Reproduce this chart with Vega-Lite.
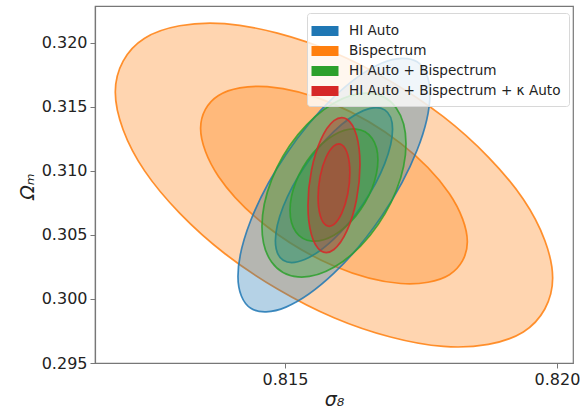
{
  "$schema": "https://vega.github.io/schema/vega-lite/v6.json",
  "width": 478,
  "height": 357,
  "autosize": "none",
  "padding": {"left": 95, "top": 6, "right": 7, "bottom": 46},
  "background": "white",
  "config": {
    "font": "DejaVu Sans",
    "view": {"stroke": "#777", "strokeWidth": 1.2},
    "axis": {"grid": false, "domainColor": "#777", "domainWidth": 1.2, "tickColor": "#777", "tickSize": 5, "labelFont": "DejaVu Sans", "labelFontSize": 16, "labelColor": "#222", "labelPadding": 3, "titleFont": "DejaVu Sans", "titleFontSize": 19, "titleFontWeight": "normal", "titleFontStyle": "italic", "titleColor": "#222"}
  },
  "data": {
    "values": [
      {"series": "Bispectrum", "ellipse": "e1", "k": 0, "sigma8": 0.819920, "omega_m": 0.301635},
      {"series": "Bispectrum", "ellipse": "e1", "k": 1, "sigma8": 0.819381, "omega_m": 0.307791},
      {"series": "Bispectrum", "ellipse": "e1", "k": 2, "sigma8": 0.817910, "omega_m": 0.314243},
      {"series": "Bispectrum", "ellipse": "e1", "k": 3, "sigma8": 0.815900, "omega_m": 0.319264},
      {"series": "Bispectrum", "ellipse": "e1", "k": 4, "sigma8": 0.813890, "omega_m": 0.321508},
      {"series": "Bispectrum", "ellipse": "e1", "k": 5, "sigma8": 0.812419, "omega_m": 0.320374},
      {"series": "Bispectrum", "ellipse": "e1", "k": 6, "sigma8": 0.811880, "omega_m": 0.316165},
      {"series": "Bispectrum", "ellipse": "e1", "k": 7, "sigma8": 0.812419, "omega_m": 0.310009},
      {"series": "Bispectrum", "ellipse": "e1", "k": 8, "sigma8": 0.813890, "omega_m": 0.303557},
      {"series": "Bispectrum", "ellipse": "e1", "k": 9, "sigma8": 0.815900, "omega_m": 0.298536},
      {"series": "Bispectrum", "ellipse": "e1", "k": 10, "sigma8": 0.817910, "omega_m": 0.296292},
      {"series": "Bispectrum", "ellipse": "e1", "k": 11, "sigma8": 0.819381, "omega_m": 0.297426},
      {"series": "Bispectrum", "ellipse": "e2", "k": 0, "sigma8": 0.818352, "omega_m": 0.304468},
      {"series": "Bispectrum", "ellipse": "e2", "k": 1, "sigma8": 0.818023, "omega_m": 0.308224},
      {"series": "Bispectrum", "ellipse": "e2", "k": 2, "sigma8": 0.817126, "omega_m": 0.312159},
      {"series": "Bispectrum", "ellipse": "e2", "k": 3, "sigma8": 0.815900, "omega_m": 0.315222},
      {"series": "Bispectrum", "ellipse": "e2", "k": 4, "sigma8": 0.814674, "omega_m": 0.316591},
      {"series": "Bispectrum", "ellipse": "e2", "k": 5, "sigma8": 0.813777, "omega_m": 0.315899},
      {"series": "Bispectrum", "ellipse": "e2", "k": 6, "sigma8": 0.813448, "omega_m": 0.313332},
      {"series": "Bispectrum", "ellipse": "e2", "k": 7, "sigma8": 0.813777, "omega_m": 0.309576},
      {"series": "Bispectrum", "ellipse": "e2", "k": 8, "sigma8": 0.814674, "omega_m": 0.305641},
      {"series": "Bispectrum", "ellipse": "e2", "k": 9, "sigma8": 0.815900, "omega_m": 0.302578},
      {"series": "Bispectrum", "ellipse": "e2", "k": 10, "sigma8": 0.817126, "omega_m": 0.301209},
      {"series": "Bispectrum", "ellipse": "e2", "k": 11, "sigma8": 0.818023, "omega_m": 0.301901},
      {"series": "HI Auto", "ellipse": "e3", "k": 0, "sigma8": 0.817665, "omega_m": 0.316044},
      {"series": "HI Auto", "ellipse": "e3", "k": 1, "sigma8": 0.817429, "omega_m": 0.318529},
      {"series": "HI Auto", "ellipse": "e3", "k": 2, "sigma8": 0.816783, "omega_m": 0.318435},
      {"series": "HI Auto", "ellipse": "e3", "k": 3, "sigma8": 0.815900, "omega_m": 0.315786},
      {"series": "HI Auto", "ellipse": "e3", "k": 4, "sigma8": 0.815017, "omega_m": 0.311291},
      {"series": "HI Auto", "ellipse": "e3", "k": 5, "sigma8": 0.814371, "omega_m": 0.306157},
      {"series": "HI Auto", "ellipse": "e3", "k": 6, "sigma8": 0.814135, "omega_m": 0.301756},
      {"series": "HI Auto", "ellipse": "e3", "k": 7, "sigma8": 0.814371, "omega_m": 0.299271},
      {"series": "HI Auto", "ellipse": "e3", "k": 8, "sigma8": 0.815017, "omega_m": 0.299365},
      {"series": "HI Auto", "ellipse": "e3", "k": 9, "sigma8": 0.815900, "omega_m": 0.302014},
      {"series": "HI Auto", "ellipse": "e3", "k": 10, "sigma8": 0.816783, "omega_m": 0.306509},
      {"series": "HI Auto", "ellipse": "e3", "k": 11, "sigma8": 0.817429, "omega_m": 0.311643},
      {"series": "HI Auto", "ellipse": "e4", "k": 0, "sigma8": 0.816977, "omega_m": 0.313258},
      {"series": "HI Auto", "ellipse": "e4", "k": 1, "sigma8": 0.816833, "omega_m": 0.314774},
      {"series": "HI Auto", "ellipse": "e4", "k": 2, "sigma8": 0.816439, "omega_m": 0.314716},
      {"series": "HI Auto", "ellipse": "e4", "k": 3, "sigma8": 0.815900, "omega_m": 0.313100},
      {"series": "HI Auto", "ellipse": "e4", "k": 4, "sigma8": 0.815361, "omega_m": 0.310359},
      {"series": "HI Auto", "ellipse": "e4", "k": 5, "sigma8": 0.814967, "omega_m": 0.307227},
      {"series": "HI Auto", "ellipse": "e4", "k": 6, "sigma8": 0.814823, "omega_m": 0.304542},
      {"series": "HI Auto", "ellipse": "e4", "k": 7, "sigma8": 0.814967, "omega_m": 0.303026},
      {"series": "HI Auto", "ellipse": "e4", "k": 8, "sigma8": 0.815361, "omega_m": 0.303084},
      {"series": "HI Auto", "ellipse": "e4", "k": 9, "sigma8": 0.815900, "omega_m": 0.304700},
      {"series": "HI Auto", "ellipse": "e4", "k": 10, "sigma8": 0.816439, "omega_m": 0.307441},
      {"series": "HI Auto", "ellipse": "e4", "k": 11, "sigma8": 0.816833, "omega_m": 0.310573},
      {"series": "HI Auto + Bispectrum", "ellipse": "e5", "k": 0, "sigma8": 0.817224, "omega_m": 0.312135},
      {"series": "HI Auto + Bispectrum", "ellipse": "e5", "k": 1, "sigma8": 0.817047, "omega_m": 0.314911},
      {"series": "HI Auto + Bispectrum", "ellipse": "e5", "k": 2, "sigma8": 0.816562, "omega_m": 0.316076},
      {"series": "HI Auto + Bispectrum", "ellipse": "e5", "k": 3, "sigma8": 0.815900, "omega_m": 0.315319},
      {"series": "HI Auto + Bispectrum", "ellipse": "e5", "k": 4, "sigma8": 0.815238, "omega_m": 0.312841},
      {"series": "HI Auto + Bispectrum", "ellipse": "e5", "k": 5, "sigma8": 0.814753, "omega_m": 0.309308},
      {"series": "HI Auto + Bispectrum", "ellipse": "e5", "k": 6, "sigma8": 0.814576, "omega_m": 0.305665},
      {"series": "HI Auto + Bispectrum", "ellipse": "e5", "k": 7, "sigma8": 0.814753, "omega_m": 0.302889},
      {"series": "HI Auto + Bispectrum", "ellipse": "e5", "k": 8, "sigma8": 0.815238, "omega_m": 0.301724},
      {"series": "HI Auto + Bispectrum", "ellipse": "e5", "k": 9, "sigma8": 0.815900, "omega_m": 0.302481},
      {"series": "HI Auto + Bispectrum", "ellipse": "e5", "k": 10, "sigma8": 0.816562, "omega_m": 0.304959},
      {"series": "HI Auto + Bispectrum", "ellipse": "e5", "k": 11, "sigma8": 0.817047, "omega_m": 0.308492},
      {"series": "HI Auto + Bispectrum", "ellipse": "e6", "k": 0, "sigma8": 0.816708, "omega_m": 0.310873},
      {"series": "HI Auto + Bispectrum", "ellipse": "e6", "k": 1, "sigma8": 0.816600, "omega_m": 0.312567},
      {"series": "HI Auto + Bispectrum", "ellipse": "e6", "k": 2, "sigma8": 0.816304, "omega_m": 0.313277},
      {"series": "HI Auto + Bispectrum", "ellipse": "e6", "k": 3, "sigma8": 0.815900, "omega_m": 0.312816},
      {"series": "HI Auto + Bispectrum", "ellipse": "e6", "k": 4, "sigma8": 0.815496, "omega_m": 0.311304},
      {"series": "HI Auto + Bispectrum", "ellipse": "e6", "k": 5, "sigma8": 0.815200, "omega_m": 0.309149},
      {"series": "HI Auto + Bispectrum", "ellipse": "e6", "k": 6, "sigma8": 0.815092, "omega_m": 0.306927},
      {"series": "HI Auto + Bispectrum", "ellipse": "e6", "k": 7, "sigma8": 0.815200, "omega_m": 0.305233},
      {"series": "HI Auto + Bispectrum", "ellipse": "e6", "k": 8, "sigma8": 0.815496, "omega_m": 0.304523},
      {"series": "HI Auto + Bispectrum", "ellipse": "e6", "k": 9, "sigma8": 0.815900, "omega_m": 0.304984},
      {"series": "HI Auto + Bispectrum", "ellipse": "e6", "k": 10, "sigma8": 0.816304, "omega_m": 0.306496},
      {"series": "HI Auto + Bispectrum", "ellipse": "e6", "k": 11, "sigma8": 0.816600, "omega_m": 0.308651},
      {"series": "HI Auto + Bispectrum + κ Auto", "ellipse": "e7", "k": 0, "sigma8": 0.816378, "omega_m": 0.310482},
      {"series": "HI Auto + Bispectrum + κ Auto", "ellipse": "e7", "k": 1, "sigma8": 0.816314, "omega_m": 0.312785},
      {"series": "HI Auto + Bispectrum + κ Auto", "ellipse": "e7", "k": 2, "sigma8": 0.816139, "omega_m": 0.314047},
      {"series": "HI Auto + Bispectrum + κ Auto", "ellipse": "e7", "k": 3, "sigma8": 0.815900, "omega_m": 0.313930},
      {"series": "HI Auto + Bispectrum + κ Auto", "ellipse": "e7", "k": 4, "sigma8": 0.815661, "omega_m": 0.312465},
      {"series": "HI Auto + Bispectrum + κ Auto", "ellipse": "e7", "k": 5, "sigma8": 0.815486, "omega_m": 0.310045},
      {"series": "HI Auto + Bispectrum + κ Auto", "ellipse": "e7", "k": 6, "sigma8": 0.815422, "omega_m": 0.307318},
      {"series": "HI Auto + Bispectrum + κ Auto", "ellipse": "e7", "k": 7, "sigma8": 0.815486, "omega_m": 0.305015},
      {"series": "HI Auto + Bispectrum + κ Auto", "ellipse": "e7", "k": 8, "sigma8": 0.815661, "omega_m": 0.303753},
      {"series": "HI Auto + Bispectrum + κ Auto", "ellipse": "e7", "k": 9, "sigma8": 0.815900, "omega_m": 0.303870},
      {"series": "HI Auto + Bispectrum + κ Auto", "ellipse": "e7", "k": 10, "sigma8": 0.816139, "omega_m": 0.305335},
      {"series": "HI Auto + Bispectrum + κ Auto", "ellipse": "e7", "k": 11, "sigma8": 0.816314, "omega_m": 0.307755},
      {"series": "HI Auto + Bispectrum + κ Auto", "ellipse": "e8", "k": 0, "sigma8": 0.816192, "omega_m": 0.309865},
      {"series": "HI Auto + Bispectrum + κ Auto", "ellipse": "e8", "k": 1, "sigma8": 0.816153, "omega_m": 0.311270},
      {"series": "HI Auto + Bispectrum + κ Auto", "ellipse": "e8", "k": 2, "sigma8": 0.816046, "omega_m": 0.312040},
      {"series": "HI Auto + Bispectrum + κ Auto", "ellipse": "e8", "k": 3, "sigma8": 0.815900, "omega_m": 0.311968},
      {"series": "HI Auto + Bispectrum + κ Auto", "ellipse": "e8", "k": 4, "sigma8": 0.815754, "omega_m": 0.311075},
      {"series": "HI Auto + Bispectrum + κ Auto", "ellipse": "e8", "k": 5, "sigma8": 0.815647, "omega_m": 0.309598},
      {"series": "HI Auto + Bispectrum + κ Auto", "ellipse": "e8", "k": 6, "sigma8": 0.815608, "omega_m": 0.307935},
      {"series": "HI Auto + Bispectrum + κ Auto", "ellipse": "e8", "k": 7, "sigma8": 0.815647, "omega_m": 0.306530},
      {"series": "HI Auto + Bispectrum + κ Auto", "ellipse": "e8", "k": 8, "sigma8": 0.815754, "omega_m": 0.305760},
      {"series": "HI Auto + Bispectrum + κ Auto", "ellipse": "e8", "k": 9, "sigma8": 0.815900, "omega_m": 0.305832},
      {"series": "HI Auto + Bispectrum + κ Auto", "ellipse": "e8", "k": 10, "sigma8": 0.816046, "omega_m": 0.306725},
      {"series": "HI Auto + Bispectrum + κ Auto", "ellipse": "e8", "k": 11, "sigma8": 0.816153, "omega_m": 0.308202}
    ]
  },
  "mark": {"type": "line", "interpolate": "cardinal-closed", "fillOpacity": 0.33, "strokeWidth": 1.7, "strokeOpacity": 0.85, "clip": true},
  "encoding": {
    "x": {"field": "sigma8", "type": "quantitative", "scale": {"domain": [0.811507, 0.820294], "nice": false, "zero": false}, "axis": {"values": [0.815, 0.82], "format": ".3f", "title": "σ₈", "titleBaseline": "alphabetic", "titleY": 42}},
    "y": {"field": "omega_m", "type": "quantitative", "scale": {"domain": [0.295, 0.32289], "nice": false, "zero": false}, "axis": {"values": [0.295, 0.3, 0.305, 0.31, 0.315, 0.32], "format": ".3f", "title": "Ωₘ", "titleAngle": -90, "titleBaseline": "alphabetic", "titleAlign": "center", "titleX": -62, "titleY": 180}},
    "detail": {"field": "ellipse", "type": "nominal"},
    "order": {"field": "k", "type": "quantitative"},
    "fill": {"field": "series", "type": "nominal", "scale": {"domain": ["HI Auto", "Bispectrum", "HI Auto + Bispectrum", "HI Auto + Bispectrum + κ Auto"], "range": ["#1f77b4", "#ff7f0e", "#2ca02c", "#d62728"]}, "legend": {"orient": "none", "legendX": 212, "legendY": 7, "title": null, "symbolType": "M-1.35,-0.5H1.35V0.5H-1.35Z", "symbolSize": 400, "symbolOpacity": 1, "symbolFillOpacity": 1, "symbolStrokeWidth": 0, "labelFont": "DejaVu Sans", "labelFontSize": 13.6, "labelColor": "#222", "labelOffset": 14, "rowPadding": 3, "padding": 8, "fillColor": "rgba(255,255,255,0.8)", "strokeColor": "#d8d8d8", "cornerRadius": 3, "labelLimit": 400}},
    "stroke": {"field": "series", "type": "nominal", "scale": {"domain": ["HI Auto", "Bispectrum", "HI Auto + Bispectrum", "HI Auto + Bispectrum + κ Auto"], "range": ["#1f77b4", "#ff7f0e", "#2ca02c", "#d62728"]}, "legend": null}
  }
}
